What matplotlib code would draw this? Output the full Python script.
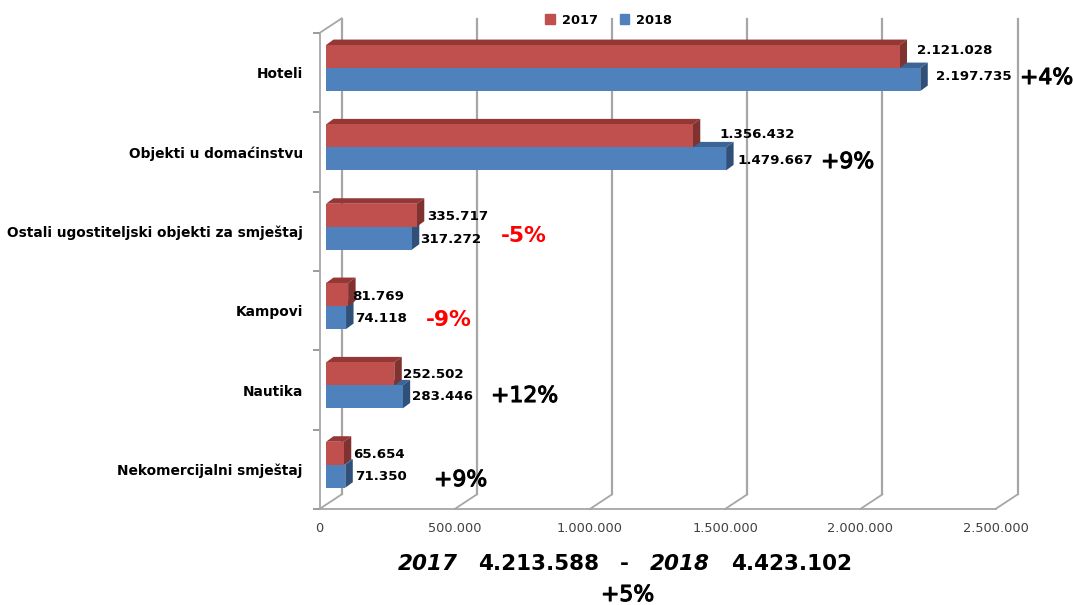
import matplotlib
matplotlib.use('Agg')
import matplotlib.pyplot as plt
import matplotlib.patheffects as pe
from matplotlib.patches import Patch

categories = ['Hoteli', 'Objekti u domaćinstvu', 'Ostali ugostiteljski objekti za smještaj',
              'Kampovi', 'Nautika', 'Nekomercijalni smještaj']
values_2017 = [2121028, 1356432, 335717, 81769, 252502, 65654]
values_2018 = [2197735, 1479667, 317272, 74118, 283446, 71350]
labels_2017 = ['2.121.028', '1.356.432', '335.717', '81.769', '252.502', '65.654']
labels_2018 = ['2.197.735', '1.479.667', '317.272', '74.118', '283.446', '71.350']
changes = ['+4%', '+9%', '-5%', '-9%', '+12%', '+9%']
x_ticks = [0, 500000, 1000000, 1500000, 2000000, 2500000]
x_tick_labels = ['0', '500.000', '1.000.000', '1.500.000', '2.000.000', '2.500.000']

# label anchors in pixels, left edge / vertical centre
pos_2017 = [(917, 50), (719, 134), (427, 216), (352, 296), (403, 375), (353, 454)]
pos_2018 = [(936, 76), (737, 160), (420, 239), (355, 318), (412, 397), (355, 477)]
pos_change = [(1020, 78), (821, 162), (501, 236), (426, 320), (491, 396), (434, 480)]

W, H = 1073, 605
RED, RED_TOP, RED_SIDE = '#C0504D', '#953735', '#7F3230'
BLUE, BLUE_TOP, BLUE_SIDE = '#4F81BD', '#3C6494', '#30507A'
GRID = '#A6A6A6'

fig = plt.figure(figsize=(W / 100, H / 100), dpi=100)
ax = fig.add_axes([319.5 / W, 1 - 509 / H, 676 / W, 476 / H])
ax.set_xlim(0, 2500000)
ax.set_ylim(6, 0)

px_x = 2500000 / 676
px_y = 6 / 476

# back wall and floor
off_x = 22 * px_x
off_y = 14.5 * px_y
for v in x_ticks:
    ax.plot([v + off_x, v + off_x], [6 - off_y, -off_y], color=GRID, lw=1.6, zorder=1, clip_on=False)
    ax.plot([v, v + off_x], [6, 6 - off_y], color=GRID, lw=1.3, zorder=1, clip_on=False)
ax.plot([0, off_x], [0, -off_y], color=GRID, lw=1.3, zorder=1, clip_on=False)

start = 6.5 * px_x
bar_h = 23 * px_y
shift = 4.6 * px_y
d_x = 7.5 * px_x
d_y = 5.5 * px_y


def draw_bar(val, y_top, front, top, side, z_faces, z_front):
    ax.barh(y_top + bar_h / 2, val, height=bar_h, left=start, color=front, zorder=z_front, clip_on=False)
    x1 = start + val
    y_bot = y_top + bar_h
    ax.fill([start, start + d_x, x1 + d_x, x1], [y_top, y_top - d_y, y_top - d_y, y_top],
            color=top, lw=0, zorder=z_faces, clip_on=False)
    ax.fill([x1, x1 + d_x, x1 + d_x, x1], [y_top, y_top - d_y, y_bot - d_y, y_bot],
            color=side, lw=0, zorder=z_faces, clip_on=False)


for i in range(len(categories)):
    mid = i + 0.5 - shift
    draw_bar(values_2018[i], mid, BLUE, BLUE_TOP, BLUE_SIDE, 2, 5)
    draw_bar(values_2017[i], mid - bar_h, RED, RED_TOP, RED_SIDE, 3, 4)

for s in ['top', 'right']:
    ax.spines[s].set_visible(False)
for s in ['left', 'bottom']:
    ax.spines[s].set_color(GRID)
    ax.spines[s].set_linewidth(1.3)

ax.set_xticks(x_ticks)
ax.set_xticklabels(x_tick_labels, fontsize=9.3, color='#404040')
ax.tick_params(axis='x', length=0, pad=9)
ax.set_yticks(range(7))
ax.set_yticklabels([])
ax.tick_params(axis='y', which='major', length=5, color='#808080', width=1.1)
ax.set_yticks([i + 0.5 for i in range(6)], minor=True)
ax.set_yticklabels(categories, minor=True, fontsize=9.9, fontweight='bold', color='black')
ax.tick_params(axis='y', which='minor', length=0, pad=12)


def put(x, y, s, **kw):
    kw.setdefault('va', 'center')
    fig.text(x / W, 1 - y / H, s, **kw)


for i in range(len(categories)):
    put(pos_2017[i][0], pos_2017[i][1], labels_2017[i], fontsize=9.6, fontweight='bold', color='black', zorder=6)
    put(pos_2018[i][0], pos_2018[i][1], labels_2018[i], fontsize=9.6, fontweight='bold', color='black', zorder=6)
    if changes[i].startswith('-'):
        put(pos_change[i][0], pos_change[i][1], changes[i], fontsize=15.7, fontweight='bold', color='red', zorder=6)
    else:
        put(pos_change[i][0], pos_change[i][1], changes[i], fontsize=15.8, color='black', zorder=6,
            path_effects=[pe.withStroke(linewidth=0.8, foreground='black')])

leg = ax.legend(handles=[Patch(color=RED, label='2017'), Patch(color=BLUE, label='2018')],
                ncol=2, frameon=False, loc='center', bbox_to_anchor=(608.5 / W, 1 - 20 / H),
                bbox_transform=fig.transFigure, prop={'size': 9.3, 'weight': 'bold'},
                handlelength=0.75, handleheight=0.75, handletextpad=0.5, columnspacing=1.7,
                borderpad=0)

# totals under the chart
put(398, 564, '2017', fontsize=15.5, fontweight='bold', style='italic')
put(478, 564, '4.213.588', fontsize=15.5, fontweight='bold')
put(620, 564, '-', fontsize=15.5, fontweight='bold')
put(650, 564, '2018', fontsize=15.5, fontweight='bold', style='italic')
put(731, 564, '4.423.102', fontsize=15.5, fontweight='bold')
put(601, 595, '+5%', fontsize=15.8, path_effects=[pe.withStroke(linewidth=0.8, foreground='black')])

fig.savefig('out.png', dpi=100)
